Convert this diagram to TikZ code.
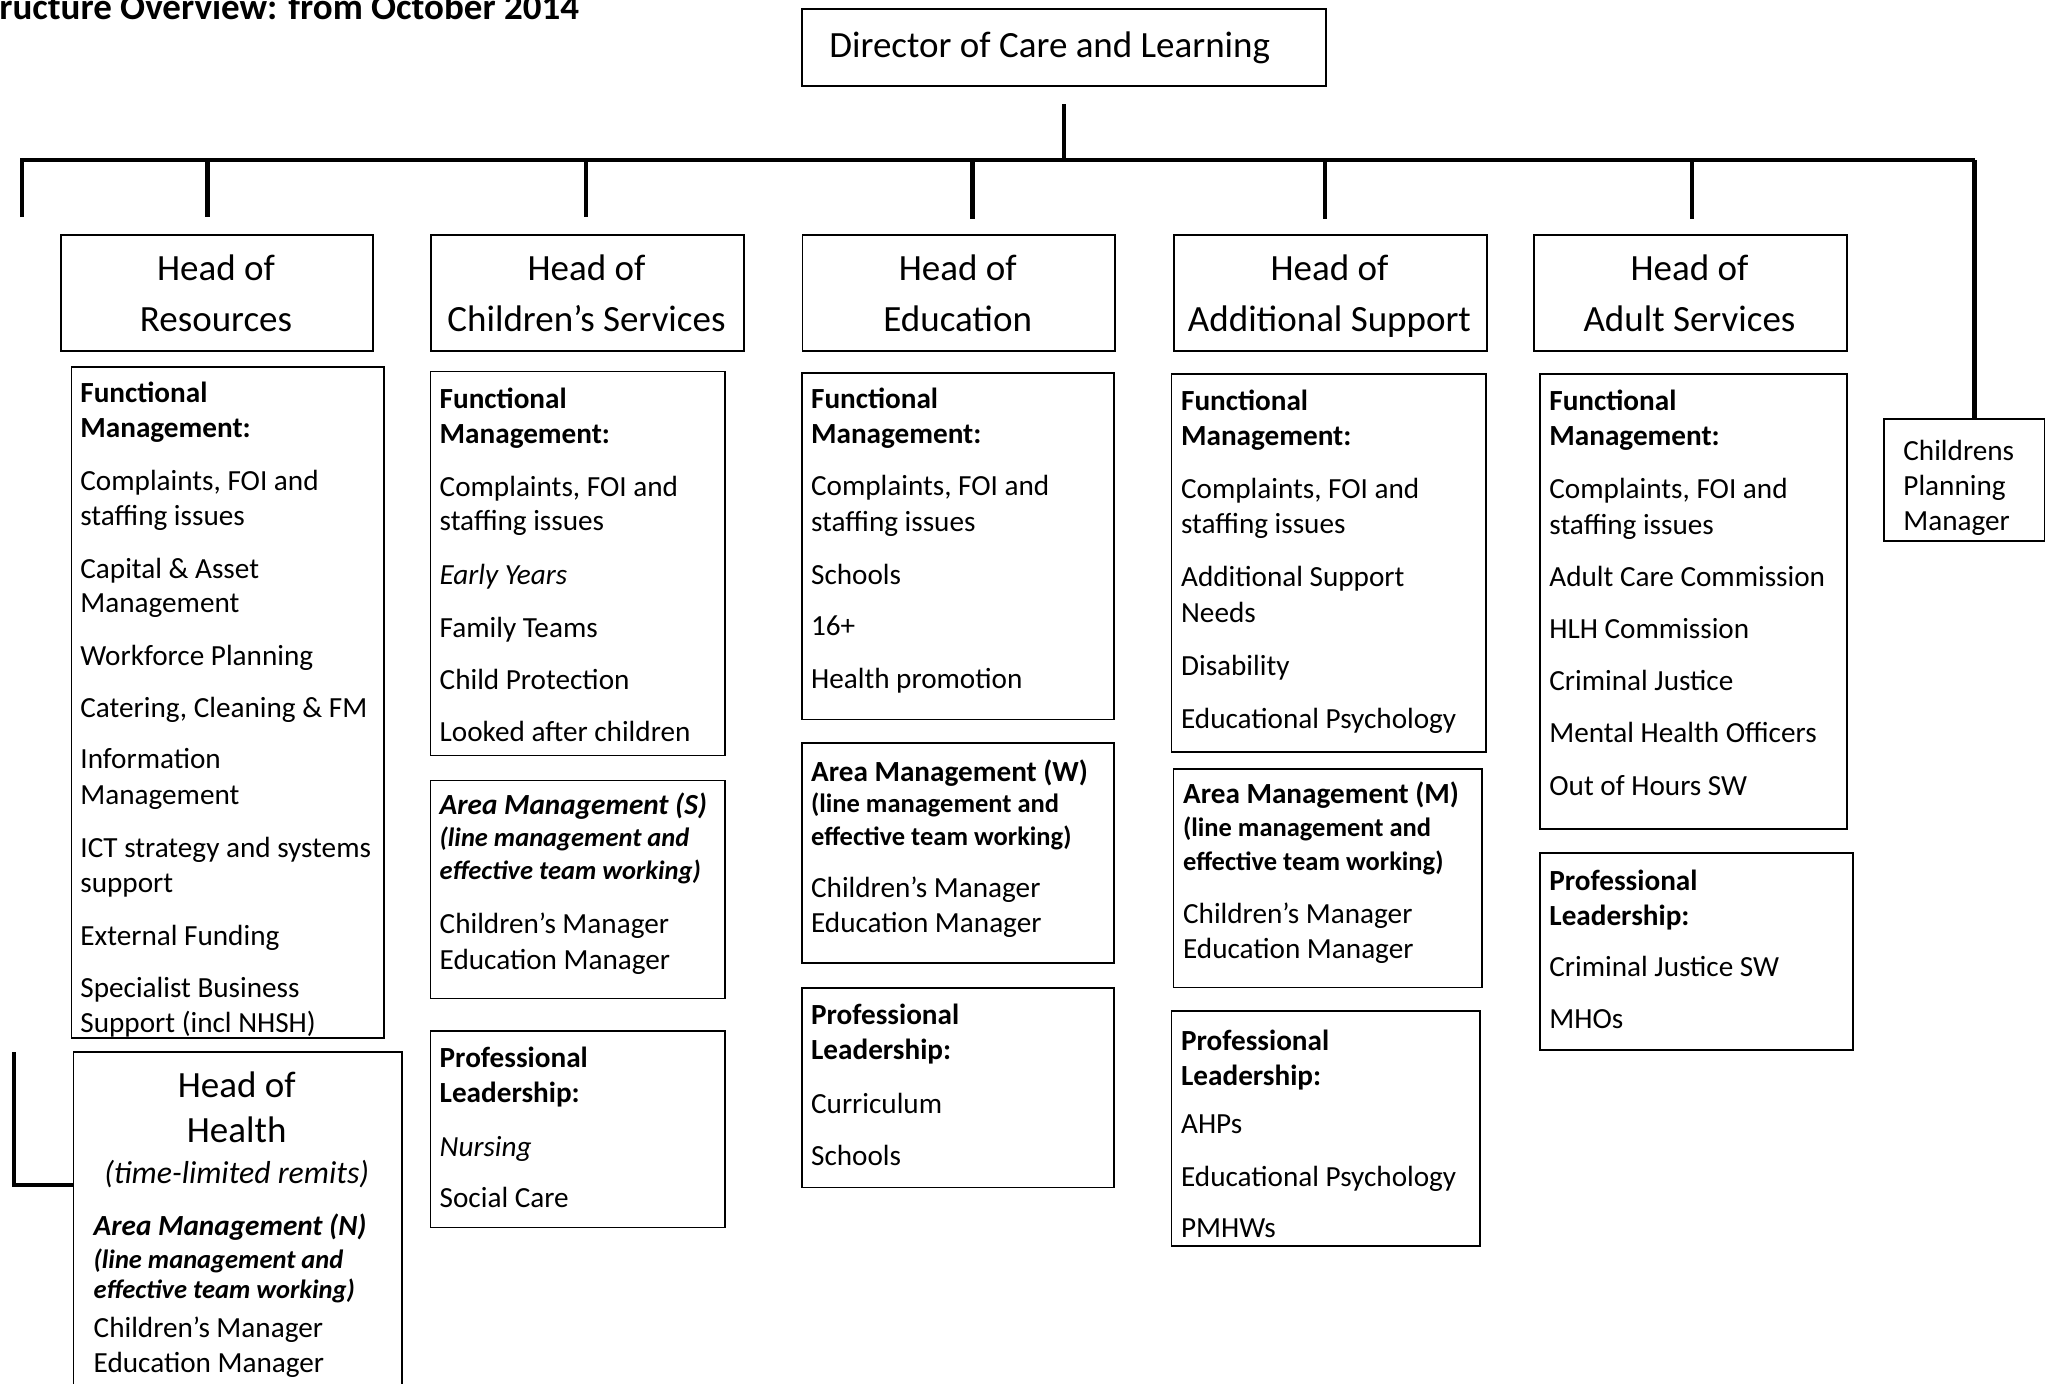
\documentclass[tikz,border=0pt]{standalone}
\usepackage{fontspec}
\setmainfont{Carlito}
\newcommand\mkbox[5]{\node[box, minimum width={(#4-#2)*0.5pt}, minimum height={(#5-#3)*0.5pt}] (#1) at (#2,#3) {};}
\tikzset{
  box/.style={draw, line width=0.8pt, inner sep=0pt, anchor=north west},
  conn/.style={line width=2.4pt},
  fn/.style={inner sep=0pt, anchor=base west, font=\fontsize{14.6pt}{17.5pt}\selectfont},
  fb/.style={fn, font=\fontsize{14.6pt}{17.5pt}\selectfont\bfseries},
  fi/.style={fn, font=\fontsize{14.6pt}{17.5pt}\selectfont\itshape},
  fbi/.style={fn, font=\fontsize{14.6pt}{17.5pt}\selectfont\bfseries\itshape},
  sb/.style={fn, font=\fontsize{13.25pt}{16pt}\selectfont\bfseries},
  sbi/.style={fn, font=\fontsize{13.25pt}{16pt}\selectfont\bfseries\itshape},
  hd/.style={inner sep=0pt, anchor=base, font=\fontsize{18.5pt}{22pt}\selectfont},
  hdi/.style={inner sep=0pt, anchor=base, font=\fontsize{15.9pt}{19pt}\selectfont\itshape},
}
\begin{document}
\begin{tikzpicture}[x=0.5pt,y=-0.5pt]
\useasboundingbox (0,0) rectangle (2047,1383);

% title
\node[anchor=base west, inner sep=0pt, font=\fontsize{18.5pt}{22pt}\selectfont\bfseries] (title) at (-1,19) {ructure Overview: from October 2014};

% director
\mkbox{dir}{801}{8}{1325}{85}
\node[fn, font=\fontsize{18.5pt}{22pt}\selectfont] (dirt) at (829,57) {Director of Care and Learning};

% head boxes
\mkbox{hres}{60}{234}{372}{350}
\mkbox{hchi}{430}{234}{743}{350}
\mkbox{hedu}{801.5}{234}{1114}{350}
\mkbox{hadd}{1173}{234}{1486}{350}
\mkbox{hadu}{1533}{234}{1846}{350}
\node[hd] (hres1) at (216,280) {Head of};
\node[hd] (hres2) at (216,331) {Resources};
\node[hd] (hchi1) at (586.5,280) {Head of};
\node[hd] (hchi2) at (586.5,331) {Children’s Services};
\node[hd] (hedu1) at (957.7,280) {Head of};
\node[hd] (hedu2) at (957.7,331) {Education};
\node[hd] (hadd1) at (1329.5,280) {Head of};
\node[hd] (hadd2) at (1329.5,331) {Additional Support};
\node[hd] (hadu1) at (1689.5,280) {Head of};
\node[hd] (hadu2) at (1689.5,331) {Adult Services};

% connectors
\coordinate (dirlow) at (1064,104);
\coordinate (dirbar) at (1064,160);
\coordinate (barL) at (22,160);
\coordinate (barR) at (1974.5,160);
\coordinate (dropL) at (22,217);
\draw[conn] (dirlow) -- (dirbar);
\draw[conn] (dropL) -- (barL) -- (barR);
\foreach \x/\b [count=\i] in {207.6/217, 586/217, 972.6/219, 1325/219, 1692/219}{
  \coordinate (dt\i) at (\x,160);
  \coordinate (db\i) at (\x,\b);
  \draw[conn] (dt\i) -- (db\i);
}

% Childrens Planning Manager
\mkbox{cpm}{1883}{418}{2043.5}{540}
\draw[conn] (barR) -- (barR |- cpm.north);
\foreach \y/\t [count=\i] in {460/{Childrens}, 495/{Planning}, 530/{Manager}}{
  \node[fn] (cpm\i) at (1903,\y) {\t};
}

% Resources functional (text clipped by box)
\begin{scope}
\clip (70.5,366) rectangle (383,1037);
\foreach \y/\s/\t [count=\i] in {
  402/fb/{Functional}, 437/fb/{Management:},
  490/fn/{Complaints, FOI and}, 525/fn/{staffing issues},
  578/fn/{Capital \& Asset}, 612/fn/{Management},
  665/fn/{Workforce Planning},
  717/fn/{Catering, Cleaning \& FM},
  768/fn/{Information}, 804/fn/{Management},
  857/fn/{ICT strategy and systems}, 892/fn/{support},
  945/fn/{External Funding},
  997/fn/{Specialist Business}, 1032/fn/{Support (incl NHSH)}}{
  \node[\s] (rf\i) at (80,\y) {\t};
}
\end{scope}
\mkbox{rfun}{70.5}{366}{383}{1037}

% Head of Health
\mkbox{health}{72.5}{1051}{401}{1400}
\node[hd] (hh1) at (236.7,1097) {Head of};
\node[hd] (hh2) at (236.7,1142) {Health};
\node[hdi] (hh3) at (236.7,1183) {(time-limited remits)};
\foreach \y/\s/\t [count=\i] in {
  1235/fbi/{Area Management (N)}, 1268/sbi/{(line management and},
  1298/sbi/{effective team working)},
  1337/fn/{Children’s Manager}, 1372/fn/{Education Manager}}{
  \node[\s] (ha\i) at (93.3,\y) {\t};
}
\coordinate (hcTop) at (14,1052);
\coordinate (hcCorner) at (14,1185);
\draw[conn] (hcTop) -- (hcCorner) -- (hcCorner -| health.west);

% Children's column
\mkbox{cfun}{429.5}{370.5}{724}{754.5}
\foreach \y/\s/\t [count=\i] in {
  408/fb/{Functional}, 443/fb/{Management:},
  496/fn/{Complaints, FOI and}, 530/fn/{staffing issues},
  584/fi/{Early Years}, 637/fn/{Family Teams},
  689/fn/{Child Protection}, 741.5/fn/{Looked after children}}{
  \node[\s] (cf\i) at (439.3,\y) {\t};
}
\mkbox{care}{429.5}{779.5}{724}{997.5}
\foreach \y/\s/\t [count=\i] in {
  814/fbi/{Area Management (S)}, 846/sbi/{(line management and},
  879/sbi/{effective team working)},
  933/fn/{Children’s Manager}, 969/fn/{Education Manager}}{
  \node[\s] (ca\i) at (439.3,\y) {\t};
}
\mkbox{cpro}{429.5}{1030}{724}{1226.5}
\foreach \y/\s/\t [count=\i] in {
  1067/fb/{Professional}, 1102.5/fb/{Leadership:},
  1156/fi/{Nursing}, 1207/fn/{Social Care}}{
  \node[\s] (cp\i) at (439.3,\y) {\t};
}

% Education column
\mkbox{efun}{801}{372}{1113.3}{718.7}
\foreach \y/\s/\t [count=\i] in {
  408/fb/{Functional}, 443/fb/{Management:},
  495.6/fn/{Complaints, FOI and}, 531/fn/{staffing issues},
  584/fn/{Schools}, 635.4/fn/{16+}, 688/fn/{Health promotion}}{
  \node[\s] (ef\i) at (810.7,\y) {\t};
}
\mkbox{earea}{801}{742.4}{1113.3}{962.3}
\foreach \y/\s/\t [count=\i] in {
  781/fb/{Area Management (W)}, 812/sb/{(line management and},
  845/sb/{effective team working)},
  897.6/fn/{Children’s Manager}, 932.8/fn/{Education Manager}}{
  \node[\s] (ea\i) at (810.7,\y) {\t};
}
\mkbox{epro}{801}{987}{1113.3}{1186.7}
\foreach \y/\s/\t [count=\i] in {
  1024.5/fb/{Professional}, 1059.7/fb/{Leadership:},
  1113/fn/{Curriculum}, 1165.5/fn/{Schools}}{
  \node[\s] (ep\i) at (810.7,\y) {\t};
}

% Additional Support column
\mkbox{afun}{1170.7}{373.3}{1485}{751.3}
\foreach \y/\s/\t [count=\i] in {
  410/fb/{Functional}, 445.3/fb/{Management:},
  498.7/fn/{Complaints, FOI and}, 533.3/fn/{staffing issues},
  586.7/fn/{Additional Support}, 622/fn/{Needs},
  675.3/fn/{Disability}, 728/fn/{Educational Psychology}}{
  \node[\s] (af\i) at (1180.7,\y) {\t};
}
\mkbox{aarea}{1172.7}{768}{1481}{986.7}
\foreach \y/\s/\t [count=\i] in {
  803/fb/{Area Management (M)}, 836.7/sb/{(line management and},
  870/sb/{effective team working)},
  923/fn/{Children’s Manager}, 958.7/fn/{Education Manager}}{
  \node[\s] (aa\i) at (1182.7,\y) {\t};
}
\mkbox{apro}{1170.7}{1010}{1479}{1245}
\foreach \y/\s/\t [count=\i] in {
  1050/fb/{Professional}, 1085/fb/{Leadership:},
  1133/fn/{AHPs}, 1186.7/fn/{Educational Psychology}, 1237/fn/{PMHWs}}{
  \node[\s] (ap\i) at (1180.7,\y) {\t};
}

% Adult column
\mkbox{dfun}{1539}{373.3}{1846}{828}
\foreach \y/\s/\t [count=\i] in {
  410/fb/{Functional}, 445/fb/{Management:},
  498.4/fn/{Complaints, FOI and}, 534/fn/{staffing issues},
  586.6/fn/{Adult Care Commission}, 638/fn/{HLH Commission},
  690/fn/{Criminal Justice}, 742.6/fn/{Mental Health Officers},
  795/fn/{Out of Hours SW}}{
  \node[\s] (df\i) at (1549,\y) {\t};
}
\mkbox{dpro}{1539}{852}{1852}{1049}
\foreach \y/\s/\t [count=\i] in {
  890/fb/{Professional}, 925.6/fb/{Leadership:},
  976/fn/{Criminal Justice SW}, 1028.7/fn/{MHOs}}{
  \node[\s] (dp\i) at (1549,\y) {\t};
}
\end{tikzpicture}
\end{document}
